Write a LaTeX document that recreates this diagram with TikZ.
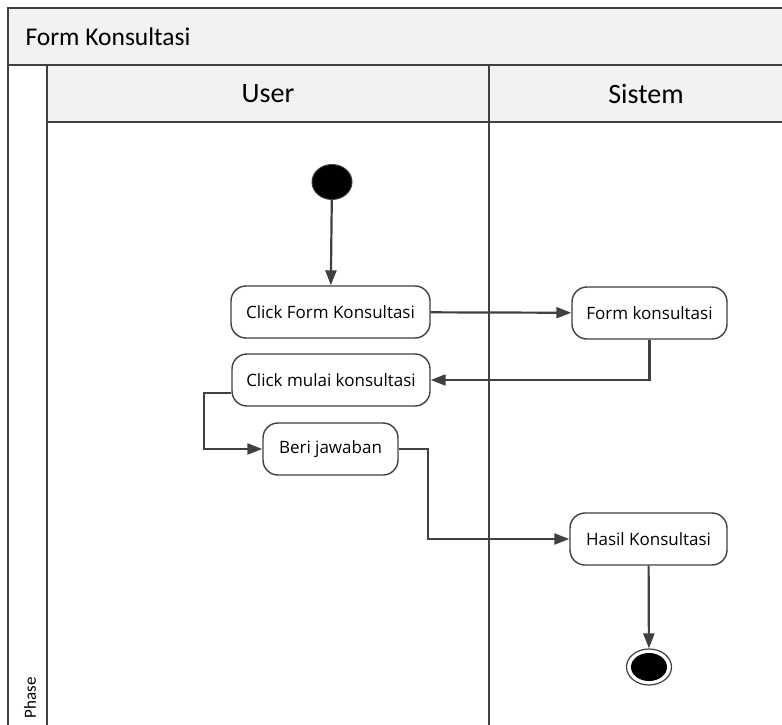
\documentclass[tikz,border=0pt]{standalone}
\usepackage{fontspec}
\setmainfont{Open Sans}
\newfontfamily\headfont{Carlito}
\usetikzlibrary{arrows.meta,calc,shapes.geometric}
\definecolor{lineclr}{HTML}{404040}
\definecolor{bandclr}{HTML}{F2F2F2}
\tikzset{
  frameline/.style={draw=lineclr, line width=1.8pt},
  activity/.style={draw=lineclr, line width=1.4pt, rounded corners=15pt, fill=white,
    minimum height=52pt, inner xsep=8pt, font=\fontsize{17}{19}\selectfont},
  flow/.style={draw=lineclr, line width=2.2pt, -{Triangle[length=15pt,width=11pt]}},
  lanehead/.style={font=\headfont\fontsize{28}{31}\selectfont, text=black},
}
\begin{document}
\begin{tikzpicture}[x=1pt,y=-1pt]
\useasboundingbox (0,0) rectangle (782,725);
\begin{scope}
\clip (0,0) rectangle (782,725);
\fill[white] (0,0) rectangle (782,725);
% swimlane frame
\fill[bandclr] (8,8) rectangle (800,65);
\fill[bandclr] (47,65) rectangle (800,122);
\draw[frameline] (8,740) -- (8,8) -- (800,8);
\draw[frameline] (8,65) -- (800,65);
\draw[frameline] (47,65) -- (47,740);
\draw[frameline] (47,122) -- (800,122);
\draw[frameline] (489,65) -- (489,740);
\end{scope}
\node[anchor=west, font=\headfont\fontsize{25.5}{28}\selectfont] (title) at (22,37) {Form Konsultasi};
\node[lanehead] (user) at (268,94) {User};
\node[lanehead] (sistem) at (646,94) {Sistem};
\node[rotate=90, anchor=west, font=\headfont\fontsize{17}{19}\selectfont] (phase) at (30,722) {Phase};

% start node
\node[draw=lineclr, line width=1pt, fill=black, ellipse, minimum width=40pt, minimum height=35pt, inner sep=0pt] (start) at (332,182) {};

% activities
\node[activity, minimum width=199pt] (cfk) at (330.5,312) {Click Form Konsultasi};
\node[activity, minimum width=155pt] (fk) at (649.5,313) {Form konsultasi};
\node[activity, minimum width=198pt] (cmk) at (331,380) {Click mulai konsultasi};
\node[activity, minimum width=135pt] (bj) at (330.5,449) {Beri jawaban};
\node[activity, minimum width=157pt] (hk) at (648.5,539) {Hasil Konsultasi};

% end node
\node[draw=lineclr, line width=1.2pt, fill=white, ellipse, minimum width=45pt, minimum height=36pt, inner sep=0pt] (end) at (649,667) {};
\node[fill=black, ellipse, minimum width=36pt, minimum height=28pt, inner sep=0pt] (endcore) at (end.center) {};

% flows
\draw[flow] (start) -- (cfk);
\draw[flow] (cfk) -- (fk);
\draw[flow] (fk.south) |- (cmk.east);
\coordinate (cmkout) at ($(cmk.west)+(0,13)$);
\draw[flow] (cmkout) -- ++(-27,0) |- (bj.west);
\draw[flow] (bj.east) -- ++(29,0) |- (hk.west);
\draw[flow] (hk) -- (end);
\end{tikzpicture}
\end{document}
